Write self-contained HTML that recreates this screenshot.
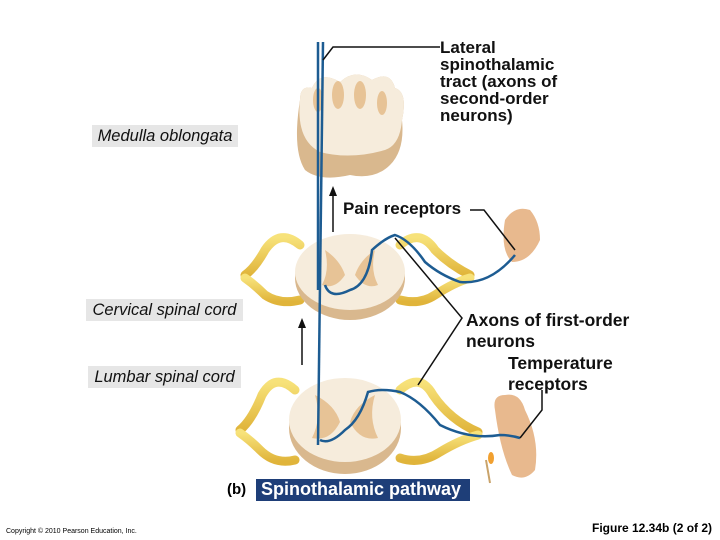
<!DOCTYPE html>
<html><head><meta charset="utf-8"><style>
body{margin:0;background:#fff;width:720px;height:540px;overflow:hidden;position:relative;font-family:"Liberation Sans",Arial,sans-serif}
.t{position:absolute;white-space:nowrap}
.b{font-weight:bold;font-size:17px;line-height:17px;color:#111}
.box{position:absolute;background:#e6e6e6;font-style:italic;font-size:16.5px;color:#111;padding:1px 3px;line-height:20px;box-sizing:border-box;text-align:center}
</style></head><body>
<svg width="720" height="540" style="position:absolute;left:0;top:0">
<defs>
<linearGradient id="y" x1="0" y1="0" x2="0" y2="1"><stop offset="0" stop-color="#f7e27a"/><stop offset="1" stop-color="#e0b43a"/></linearGradient>
</defs>
<path d="M300 100 Q300 85 312 88 Q320 70 340 82 Q355 68 372 80 Q390 70 395 88 Q408 92 402 120 Q405 150 390 165 Q375 180 350 175 Q320 182 305 170 Q292 150 300 100Z" fill="#d9b88e"/>
<path d="M300 100 Q300 85 312 88 Q320 70 340 82 Q355 68 372 80 Q390 70 395 88 Q408 92 402 120 Q400 145 385 150 Q350 160 320 152 Q296 140 300 100Z" fill="#f6ecdc"/>
<g fill="#e7c396"><ellipse cx="318" cy="100" rx="5" ry="12"/><ellipse cx="338" cy="95" rx="6" ry="14"/><ellipse cx="360" cy="95" rx="6" ry="14"/><ellipse cx="382" cy="103" rx="5" ry="12"/></g>
<g fill="none" stroke="url(#y)" stroke-width="9" stroke-linecap="round">
<path d="M300 245 Q280 228 265 250 Q255 268 245 275"/><path d="M300 300 Q280 305 265 295 Q255 285 245 278"/>
<path d="M400 245 Q420 228 435 250 Q450 265 470 275"/><path d="M400 300 Q420 305 435 295 Q455 282 470 278"/>
<path d="M295 390 Q275 372 262 395 Q252 420 240 430"/><path d="M295 460 Q275 465 260 450 Q250 440 240 433"/>
<path d="M400 390 Q420 372 433 395 Q450 420 478 432"/><path d="M400 458 Q420 465 440 452 Q460 440 478 435"/>
</g>
<ellipse cx="350" cy="278" rx="55" ry="42" fill="#d9b88e"/>
<ellipse cx="350" cy="272" rx="55" ry="38" fill="#f6ecdc"/>
<path d="M325 250 Q340 260 345 275 Q335 290 322 285 Q330 270 325 250Z M375 250 Q360 260 355 275 Q365 290 378 285 Q370 270 375 250Z" fill="#e7c396"/>
<ellipse cx="345" cy="428" rx="56" ry="46" fill="#d9b88e"/>
<ellipse cx="345" cy="420" rx="56" ry="42" fill="#f6ecdc"/>
<path d="M315 395 Q335 405 340 422 Q330 442 312 438 Q322 418 315 395Z M375 395 Q355 405 350 422 Q360 442 378 438 Q368 418 375 395Z" fill="#e7c396"/>
<path d="M505 220 Q515 205 530 210 Q540 222 540 240 Q530 262 512 262 Q500 250 505 220Z" fill="#e8b98e"/>
<path d="M495 410 Q492 395 505 395 Q520 392 525 410 Q540 440 535 470 Q525 482 512 475 Q500 450 495 410Z" fill="#e8b98e"/>
<path d="M490 483 L486 460" stroke="#c9a36a" stroke-width="2"/><ellipse cx="491" cy="458" rx="3" ry="6" fill="#f1a030"/>
<g fill="none" stroke="#1d5c92" stroke-width="2.5">
<path d="M318 42 L318 290"/><path d="M323 42 L318 445"/>
<path d="M325 285 Q330 300 350 290 Q368 285 372 250 Q385 238 395 235 Q410 240 425 262 Q440 275 460 282 Q490 285 515 255"/>
<path d="M320 440 Q330 445 345 430 Q360 420 368 392 Q382 388 400 392 Q420 400 440 425 Q470 440 500 435 Q510 435 520 438"/>
</g>
<g stroke="#111" stroke-width="1.5" fill="none">
<path d="M323 60 L333 47 L440 47"/>
<path d="M333 232 L333 190"/><path d="M302 365 L302 322"/>
<path d="M470 210 L484 210 L515 250"/>
<path d="M395 238 L462 318 L418 385"/>
<path d="M542 390 L542 410 L520 438"/>
</g>
<path d="M333 186 L329 196 L337 196Z M302 318 L298 328 L306 328Z" fill="#111"/>
</svg>
<div class="t b" style="left:440px;top:39px">Lateral<br>spinothalamic<br>tract <span>(axons of</span><br>second-order<br>neurons)</div>
<div class="box" style="left:92px;top:125px;width:146px">Medulla oblongata</div>
<div class="box" style="left:86px;top:299px;width:157px">Cervical spinal cord</div>
<div class="box" style="left:88px;top:366px;width:153px">Lumbar spinal cord</div>
<div class="t b" style="left:343px;top:200px">Pain receptors</div>
<div class="t b" style="left:466px;top:310px;line-height:21px;font-size:17.5px">Axons of first-order<br>neurons</div>
<div class="t b" style="left:508px;top:353px;line-height:21px;font-size:17.5px">Temperature<br>receptors</div>
<div class="t" style="left:227px;top:481px;font-size:15px;font-weight:bold">(b)</div>
<div class="t" style="left:256px;top:479px;width:214px;height:22px;background:#1e3e78;color:#fff;font-size:18px;font-weight:bold;line-height:21px;padding-left:5px;box-sizing:border-box">Spinothalamic pathway</div>
<div class="t" style="left:6px;top:528px;font-size:7px">Copyright © 2010 Pearson Education, Inc.</div>
<div class="t" style="left:592px;top:521px;font-size:12px;font-weight:bold">Figure 12.34b (2 of 2)</div>
</body></html>
